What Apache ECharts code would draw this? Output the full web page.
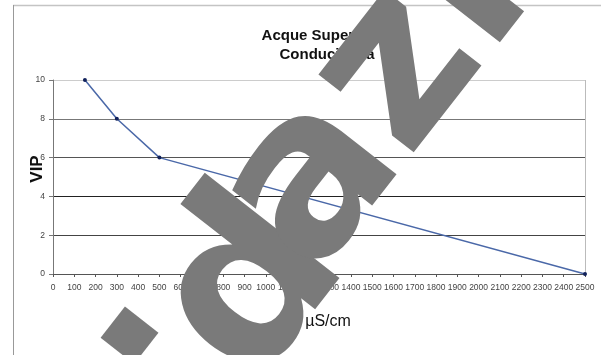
<!DOCTYPE html>
<html>
<head>
<meta charset="utf-8">
<script src="https://cdn.jsdelivr.net/npm/echarts@6/dist/echarts.min.js"></script>
<style>
  html, body { margin: 0; padding: 0; background: #fff; }
  #chart { width: 601px; height: 355px; }
</style>
</head>
<body>
<div id="chart"></div>
<script>
// Conductivity (µS/cm) vs. VIP index for surface waters
const conductivity = [150, 300, 500, 2500];
const vip = [10, 8, 6, 0];

const titleLines = ['Acque Superficiali', 'Conducibilità'];
const xAxisName = 'µS/cm';
const yAxisName = 'VIP';
const watermarkRuns = ['.', 'd', 'azi'];

const sans = "'Liberation Sans', Arial, sans-serif";
const wmFont = "bold 225px 'DejaVu Sans', sans-serif";
const wmAngle = 52 * Math.PI / 180;

const chart = echarts.init(document.getElementById('chart'), null, { renderer: 'canvas' });

function wmText(text, x, y) {
  return {
    type: 'text',
    x: x,
    y: y,
    rotation: wmAngle,
    z: 100,
    style: {
      text: text,
      font: wmFont,
      fill: '#7a7a7a',
      textAlign: 'left',
      textVerticalAlign: 'middle'
    }
  };
}

chart.setOption({
  backgroundColor: '#ffffff',
  animation: false,
  title: {
    text: titleLines.join('\n'),
    left: 322,
    top: 21,
    textAlign: 'center',
    textStyle: {
      fontFamily: sans,
      fontWeight: 'bold',
      fontSize: 15,
      lineHeight: 19,
      color: '#111'
    }
  },
  grid: { left: 53, right: 16, top: 80, bottom: 81, containLabel: false },
  xAxis: {
    type: 'value',
    min: 0,
    max: 2500,
    interval: 100,
    name: xAxisName,
    nameLocation: 'middle',
    nameGap: 40,
    nameTextStyle: { fontFamily: sans, fontSize: 16, color: '#111', padding: [0, 0, 0, 18] },
    axisLine: { show: true, lineStyle: { color: '#555', width: 1 } },
    axisTick: { show: true, length: 3, lineStyle: { color: '#555' } },
    axisLabel: {
      fontFamily: sans, fontSize: 8.5, color: '#444', margin: 9,
      showMinLabel: true, showMaxLabel: true, hideOverlap: false,
      formatter: v => String(v)
    },
    splitLine: { show: false }
  },
  yAxis: {
    type: 'value',
    min: 0,
    max: 10,
    interval: 2,
    name: yAxisName,
    nameLocation: 'middle',
    nameGap: 7,
    nameRotate: 90,
    nameMoveOverlap: false,
    nameTextStyle: { fontFamily: sans, fontSize: 17, fontWeight: 'bold', color: '#111', padding: [0, 0, 0, 16] },
    axisLine: { show: true, lineStyle: { color: '#777', width: 1 } },
    axisTick: { show: true, length: 4, lineStyle: { color: '#777' } },
    axisLabel: { fontFamily: sans, fontSize: 8.5, color: '#444', margin: 8, formatter: v => String(v) },
    splitLine: {
      show: true,
      lineStyle: { color: ['#555', '#444', '#222', '#555', '#777', '#ccc'], width: 1 }
    }
  },
  graphic: [
    // outer chart frame (top and left edges)
    { type: 'line', shape: { x1: 13, y1: 5.5, x2: 601, y2: 5.5 }, style: { stroke: '#c4c4c4', lineWidth: 1.5 }, z: 1 },
    { type: 'line', shape: { x1: 13.5, y1: 5, x2: 13.5, y2: 355 }, style: { stroke: '#999', lineWidth: 1 }, z: 1 },
    // plot area right border
    { type: 'line', shape: { x1: 585.5, y1: 80, x2: 585.5, y2: 274 }, style: { stroke: '#bbb', lineWidth: 1 }, z: 1 },
    // diagonal watermark, drawn in separate runs so the letter spacing can be tuned
    wmText(watermarkRuns[0], 74, 346),
    wmText(watermarkRuns[1], 206, 354),
    wmText(watermarkRuns[2], 268, 244)
  ],
  series: [{
    type: 'line',
    data: conductivity.map((c, i) => [c, vip[i]]),
    symbol: 'circle',
    symbolSize: 4,
    clip: false,
    itemStyle: { color: '#10205a' },
    lineStyle: { color: '#4a68a8', width: 1.5 }
  }]
});
</script>
</body>
</html>
